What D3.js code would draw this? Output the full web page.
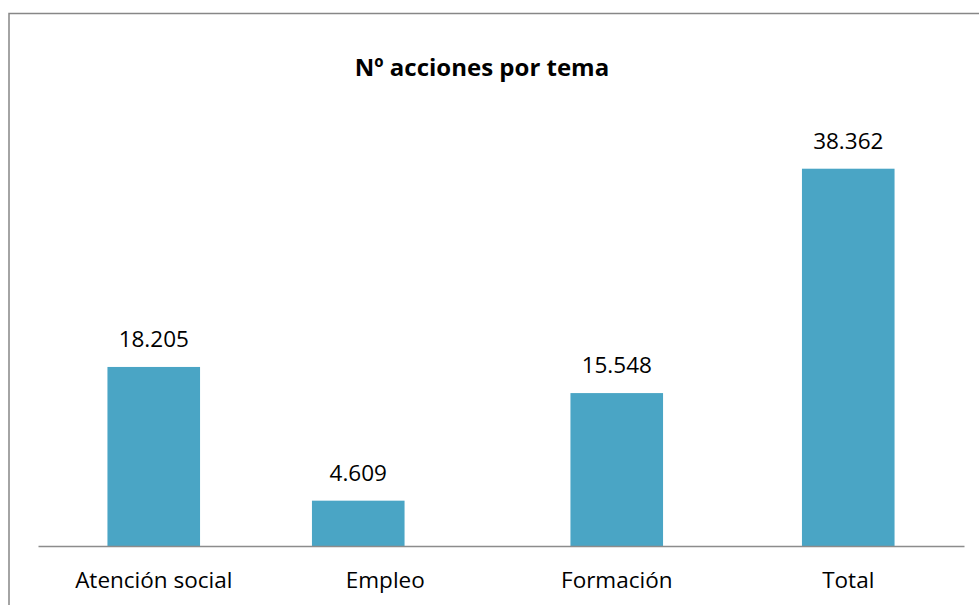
<!DOCTYPE html>
<html>
<head>
<meta charset="utf-8">
<script src="https://cdn.jsdelivr.net/npm/d3@7"></script>
<style>
  body { margin: 0; background: #fff; }
  text { font-family: "Open Sans", "DejaVu Sans", sans-serif; }
</style>
</head>
<body>
<div id="chart"></div>
<script>
// data
var categories = ["Atención social", "Empleo", "Formación", "Total"];
var values = [18205, 4609, 15548, 38362];
var title = "Nº acciones por tema";

var width = 979, height = 605;
var fmt = function (v) { return d3.format(",")(v).replace(/,/g, "."); };

// in the original the Empleo bar sits a bit left of its label
var barShift = function (label) { return label === "Empleo" ? -27 : 0; };

var svg = d3.select("#chart").append("svg")
  .attr("width", width)
  .attr("height", height);

// chart border (cut off on right and bottom)
svg.append("rect")
  .attr("x", 9).attr("y", 13.5)
  .attr("width", 1000).attr("height", 700)
  .attr("fill", "none")
  .attr("stroke", "#878787")
  .attr("stroke-width", 1.5);

svg.append("text")
  .attr("x", 482).attr("y", 76)
  .attr("text-anchor", "middle")
  .style("font-size", "24px")
  .style("font-weight", "bold")
  .text(title);

var x = d3.scaleBand()
  .domain(categories)
  .range([38, 964])
  .paddingInner(0.6)
  .paddingOuter(0.3);

var y = d3.scaleLinear()
  .domain([0, 40000])
  .range([546, 152.6]);

var data = categories.map(function (c, i) { return { label: c, value: values[i] }; });

svg.selectAll("rect.bar")
  .data(data)
  .enter().append("rect")
  .attr("class", "bar")
  .attr("x", function (d) { return x(d.label) + barShift(d.label); })
  .attr("y", function (d) { return y(d.value); })
  .attr("width", x.bandwidth())
  .attr("height", function (d) { return y(0) - y(d.value); })
  .attr("fill", "#4AA5C5");

svg.selectAll("text.val")
  .data(data)
  .enter().append("text")
  .attr("class", "val")
  .attr("x", function (d) { return x(d.label) + barShift(d.label) + x.bandwidth() / 2; })
  .attr("y", function (d) { return y(d.value) - 20; })
  .attr("text-anchor", "middle")
  .style("font-size", "22.5px")
  .attr("fill", "#000")
  .text(function (d) { return fmt(d.value); });

// category axis
var xAxis = svg.append("g")
  .attr("transform", "translate(0," + y(0) + ")")
  .call(d3.axisBottom(x).tickSize(0).tickPadding(0));
xAxis.select(".domain").attr("stroke", "#8c8c8c").attr("stroke-width", 1.5);
xAxis.selectAll(".tick text")
  .attr("dy", null)
  .attr("y", 42)
  .style("font-size", "22.5px")
  .style("font-family", "'Open Sans', sans-serif")
  .attr("fill", "#000");
</script>
</body>
</html>
